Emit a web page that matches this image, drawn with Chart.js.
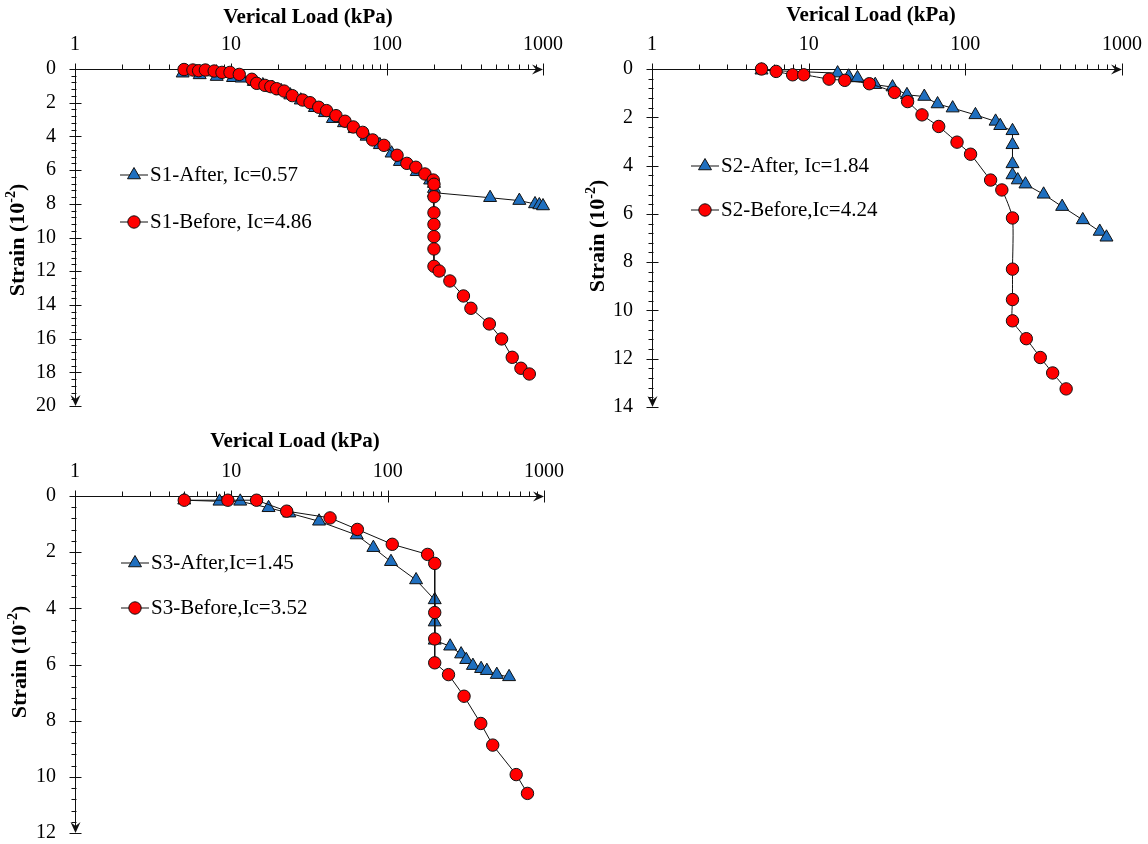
<!DOCTYPE html>
<html>
<head>
<meta charset="utf-8">
<script src="https://cdn.jsdelivr.net/npm/chart.js@4.4.1/dist/chart.umd.min.js"></script>
<style>
  html, body { margin: 0; padding: 0; background: #fff; overflow: hidden; }
  body { width: 1148px; height: 844px; position: relative; }
  canvas { position: absolute; }
</style>
</head>
<body>
<canvas id="s1" width="575" height="420" style="left:0;top:0"></canvas>
<canvas id="s2" width="573" height="420" style="left:575px;top:0"></canvas>
<canvas id="s3" width="575" height="420" style="left:0;top:425px"></canvas>
<script>
const FONT = "'Liberation Serif', 'Times New Roman', serif";
const RED  = '#ff0000';
const BLUE = '#1f6fbf';
const INK  = '#111';

// ── Datos (carga en kPa, deformación en 10^-2) ──────────────────────────────

const loadTicks = [1, 10, 100, 1000];

const s1AfterLoad   = [4.9, 6.3, 8.1, 10.3, 11.7, 14, 16, 18.5, 21, 24, 28, 34.5, 40, 45, 53, 62, 74, 90, 107, 121, 155, 189, 200, 200, 200, 458, 705, 889, 947, 1000];
const s1AfterStrain = [0.25, 0.35, 0.45, 0.52, 0.55, 0.75, 0.95, 1.12, 1.3, 1.55, 1.85, 2.3, 2.6, 2.95, 3.2, 3.55, 4.0, 4.5, 5.0, 5.5, 6.1, 6.6, 6.8, 7.1, 7.34, 7.64, 7.81, 8.01, 8.07, 8.13];
const s1BeforeLoad   = [5.0, 5.7, 6.2, 6.85, 7.8, 8.75, 9.85, 11.3, 13.6, 14.6, 16.5, 18, 19.6, 21.9, 24.7, 28.8, 32.1, 36.5, 41, 47.1, 53.8, 60.8, 69.8, 80.9, 95.6, 116, 134, 153, 175, 198, 200, 200, 200, 200, 200, 200, 200, 216, 253, 309, 345, 453, 543, 635, 722, 817];
const s1BeforeStrain = [0.03, 0.06, 0.1, 0.06, 0.12, 0.2, 0.2, 0.32, 0.61, 0.85, 0.97, 1.05, 1.17, 1.31, 1.58, 1.84, 2.0, 2.27, 2.47, 2.77, 3.1, 3.44, 3.76, 4.21, 4.53, 5.12, 5.6, 5.83, 6.23, 6.59, 6.84, 7.58, 8.53, 9.22, 9.95, 10.68, 11.71, 11.99, 12.58, 13.47, 14.2, 15.13, 16.02, 17.11, 17.76, 18.1];

const s2AfterLoad   = [5.0, 15.3, 18, 20.5, 26.6, 34.3, 42.4, 54.7, 66.5, 83, 116, 156, 167, 200, 200, 200, 200, 216, 242, 316, 415, 562, 721, 796];
const s2AfterStrain = [0.05, 0.17, 0.3, 0.37, 0.65, 0.75, 1.07, 1.14, 1.45, 1.62, 1.9, 2.17, 2.35, 2.56, 3.14, 3.93, 4.39, 4.6, 4.77, 5.19, 5.7, 6.25, 6.73, 6.97];
const s2BeforeLoad   = [5.0, 6.2, 7.9, 9.3, 13.5, 17, 24.4, 35.3, 42.8, 52.9, 67.6, 88.5, 108, 145, 171, 200, 200, 200, 200, 245, 301, 361, 440];
const s2BeforeStrain = [0.0, 0.1, 0.24, 0.24, 0.42, 0.47, 0.61, 0.97, 1.35, 1.9, 2.38, 3.03, 3.53, 4.6, 5.01, 6.17, 8.29, 9.55, 10.43, 11.17, 11.95, 12.59, 13.25];

const s3AfterLoad   = [5.0, 8.4, 11.4, 17.3, 23.5, 36.4, 63.4, 81, 105, 152, 200, 200, 200, 251, 295, 318, 351, 396, 431, 499, 598];
const s3AfterStrain = [0.15, 0.19, 0.19, 0.42, 0.61, 0.9, 1.39, 1.84, 2.34, 2.99, 3.7, 4.49, 5.14, 5.35, 5.63, 5.83, 6.04, 6.15, 6.22, 6.36, 6.44];
const s3BeforeLoad   = [5.0, 9.5, 14.5, 22.6, 42.8, 64, 107, 180, 200, 200, 200, 200, 245, 308, 394, 470, 664, 784];
const s3BeforeStrain = [0.15, 0.15, 0.15, 0.54, 0.78, 1.19, 1.72, 2.08, 2.4, 4.15, 5.09, 5.94, 6.36, 7.13, 8.1, 8.87, 9.92, 10.59];

const toPoints = (xs, ys) => xs.map((x, i) => ({ x, y: ys[i] }));

// Punta de flecha tipo "stealth" (dx,dy = dirección)
function arrowHead(ctx, tx, ty, dx, dy) {
  const len = 11, half = 5, notch = 7;
  const px = -dy, py = dx;
  ctx.beginPath();
  ctx.moveTo(tx, ty);
  ctx.lineTo(tx - dx * len + px * half, ty - dy * len + py * half);
  ctx.lineTo(tx - dx * notch, ty - dy * notch);
  ctx.lineTo(tx - dx * len - px * half, ty - dy * len - py * half);
  ctx.closePath();
  ctx.fill();
}

// Ejes con flechas, ticks mayores/menores, títulos y leyenda interna
const arrowAxes = {
  id: 'arrowAxes',
  beforeDatasetsDraw(chart) {
    const { ctx, scales: { x, y } } = chart;
    const ax = Math.round(x.left) + 0.5;
    const ay = Math.round(y.top) + 0.5;
    const xEnd = x.getPixelForValue(x.max);
    const yEnd = y.getPixelForValue(y.max);

    ctx.save();
    ctx.strokeStyle = INK;
    ctx.fillStyle = INK;
    ctx.lineWidth = 1;
    ctx.beginPath();
    ctx.moveTo(ax, ay); ctx.lineTo(xEnd - 4, ay);
    ctx.moveTo(ax, ay); ctx.lineTo(ax, yEnd - 4);

    for (let d = x.min; d <= x.max; d *= 10) {
      const px = Math.round(x.getPixelForValue(d)) + 0.5;
      ctx.moveTo(px, ay - 6); ctx.lineTo(px, ay + 6);
      if (d < x.max) {
        for (let k = 2; k < 10; k++) {
          const mx = Math.round(x.getPixelForValue(d * k)) + 0.5;
          ctx.moveTo(mx, ay - 5); ctx.lineTo(mx, ay);
        }
      }
    }

    const n = Math.round(y.max / 0.4);
    for (let i = 0; i <= n; i++) {
      const py = Math.round(y.getPixelForValue(i * 0.4)) + 0.5;
      if (i % 5 === 0) { ctx.moveTo(ax - 6, py); ctx.lineTo(ax + 6, py); }
      else { ctx.moveTo(ax - 4, py); ctx.lineTo(ax + 1, py); }
    }
    ctx.stroke();

    arrowHead(ctx, xEnd, ay, 1, 0);
    arrowHead(ctx, ax, yEnd, 0, 1);
    ctx.restore();
  },

  afterDraw(chart, args, opts) {
    const { ctx } = chart;
    ctx.save();

    // título eje X
    ctx.fillStyle = '#000';
    ctx.font = `bold 21px ${FONT}`;
    ctx.textAlign = 'center';
    ctx.textBaseline = 'middle';
    ctx.fillText('Verical Load (kPa)', opts.xTitleX, opts.xTitleY);

    // título eje Y con superíndice
    ctx.save();
    ctx.translate(opts.yTitleX, opts.yTitleY);
    ctx.rotate(-Math.PI / 2);
    ctx.textAlign = 'left';
    const main = 'Strain (10', sup = '-2', close = ')';
    ctx.font = `bold 22px ${FONT}`;
    const w1 = ctx.measureText(main).width, w3 = ctx.measureText(close).width;
    ctx.font = `bold 14px ${FONT}`;
    const w2 = ctx.measureText(sup).width;
    const start = -(w1 + w2 + w3) / 2;
    ctx.font = `bold 22px ${FONT}`;
    ctx.fillText(main, start, 0);
    ctx.fillText(close, start + w1 + w2, 0);
    ctx.font = `bold 14px ${FONT}`;
    ctx.fillText(sup, start + w1, -7);
    ctx.restore();

    // leyenda
    chart.data.datasets.forEach((ds, i) => {
      const ly = opts.legendY + i * opts.legendGap;
      const lx = opts.legendX;
      ctx.strokeStyle = ds.borderColor;
      ctx.lineWidth = 1;
      ctx.beginPath();
      ctx.moveTo(lx, ly); ctx.lineTo(lx + 28, ly);
      ctx.stroke();
      ctx.fillStyle = ds.pointBackgroundColor;
      ctx.strokeStyle = ds.pointBorderColor;
      Chart.helpers.drawPoint(ctx, { pointStyle: ds.pointStyle, radius: ds.pointRadius, borderWidth: 1, rotation: 0 }, lx + 14, ly);
      ctx.fillStyle = '#000';
      ctx.font = `21px ${FONT}`;
      ctx.textAlign = 'left';
      ctx.textBaseline = 'middle';
      ctx.fillText(ds.label, lx + 30, ly);
    });
    ctx.restore();
  },
};

const series = (label, data, pointStyle, color, radius, order, tension = 0) => ({
  label, data, order, tension,
  showLine: true,
  clip: false,
  borderColor: INK,
  borderWidth: 1,
  pointStyle,
  pointRadius: radius,
  pointHoverRadius: radius,
  pointBackgroundColor: color,
  pointBorderColor: INK,
  pointBorderWidth: 1,
});

const tickFont = { family: FONT, size: 20 };

function makePanel(id, cfg) {
  return new Chart(document.getElementById(id), {
    type: 'scatter',
    data: {
      datasets: [
        series(cfg.afterLabel, cfg.after, 'triangle', BLUE, 7.5, 1),
        series(cfg.beforeLabel, cfg.before, 'circle', RED, 6.2, 0, cfg.tension || 0),
      ],
    },
    plugins: [arrowAxes],
    options: {
      responsive: false,
      animation: false,
      events: [],
      layout: { autoPadding: false, padding: { left: 0, top: 0, right: cfg.right, bottom: cfg.bottom } },
      plugins: {
        legend: { display: false },
        tooltip: { enabled: false },
        arrowAxes: cfg.deco,
      },
      scales: {
        x: {
          type: 'logarithmic',
          position: 'top',
          min: 1,
          max: 1000,
          afterBuildTicks: s => { s.ticks = loadTicks.map(v => ({ value: v })); },
          afterFit: s => { s.height = cfg.top; s.paddingLeft = 0; s.paddingRight = 0; },
          grid: { display: false, drawTicks: false },
          border: { display: false },
          ticks: { padding: 12, color: '#000', font: tickFont, autoSkip: false, maxRotation: 0, callback: v => String(v) },
        },
        y: {
          type: 'linear',
          reverse: true,
          min: 0,
          max: cfg.yMax,
          afterFit: s => { s.width = cfg.left; s.paddingTop = 0; s.paddingBottom = 0; },
          grid: { display: false, drawTicks: false },
          border: { display: false },
          ticks: { stepSize: 2, padding: 19, color: '#000', font: tickFont },
        },
      },
    },
  });
}

makePanel('s1', {
  afterLabel: 'S1-After, Ic=0.57', beforeLabel: 'S1-Before, Ic=4.86',
  after: toPoints(s1AfterLoad, s1AfterStrain), before: toPoints(s1BeforeLoad, s1BeforeStrain),
  yMax: 20, left: 75, top: 69, right: 32, bottom: 14,
  deco: { xTitleX: 308, xTitleY: 18, yTitleX: 18, yTitleY: 240, legendX: 120, legendY: 175, legendGap: 47 },
});

makePanel('s2', {
  afterLabel: 'S2-After, Ic=1.84', beforeLabel: 'S2-Before,Ic=4.24',
  after: toPoints(s2AfterLoad, s2AfterStrain), before: toPoints(s2BeforeLoad, s2BeforeStrain),
  tension: 0.2,
  yMax: 14, left: 77, top: 69, right: 26, bottom: 13,
  deco: { xTitleX: 296, xTitleY: 16, yTitleX: 23, yTitleY: 236, legendX: 116, legendY: 166, legendGap: 44 },
});

makePanel('s3', {
  afterLabel: 'S3-After,Ic=1.45', beforeLabel: 'S3-Before,Ic=3.52',
  after: toPoints(s3AfterLoad, s3AfterStrain), before: toPoints(s3BeforeLoad, s3BeforeStrain),
  yMax: 12, left: 75, top: 71, right: 31, bottom: 12,
  deco: { xTitleX: 295, xTitleY: 17, yTitleX: 20, yTitleY: 237, legendX: 121, legendY: 138, legendGap: 45 },
});
</script>
</body>
</html>
